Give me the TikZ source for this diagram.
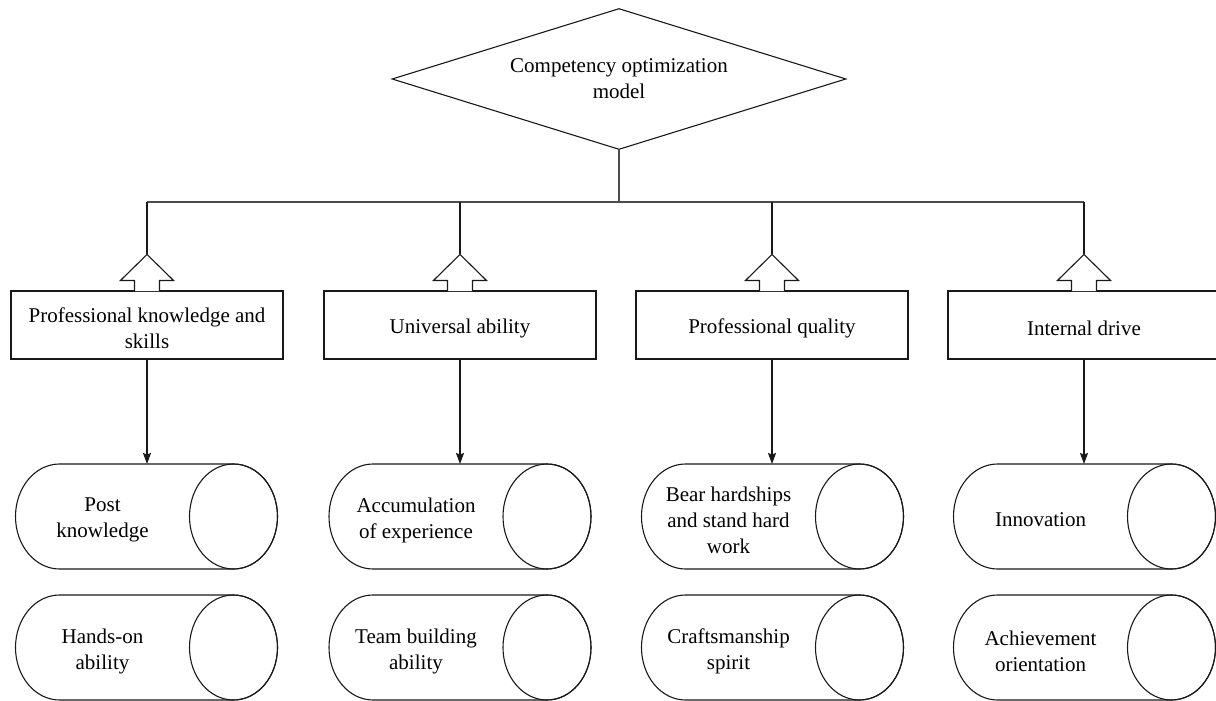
\documentclass[tikz,border=0pt]{standalone}
\usepackage{fontspec}
\setmainfont{Liberation Serif}
\usetikzlibrary{shapes.geometric,arrows.meta}
\newcommand{\capsulepic}[4]{% #1 name, #2 cx, #3 top, #4 text
  \draw[shp] ({#2-87},#3) -- ({#2+87},#3)
     arc[start angle=-90,end angle=90,x radius=44,y radius=52.5]
     -- ({#2-87},{#3+105})
     arc[start angle=90,end angle=270,x radius=44,y radius=52.5] -- cycle;
  \draw[shp] ({#2+87},{#3+52.5}) ellipse[x radius=44,y radius=52.5];
  \coordinate (#1top) at (#2,#3);
  \node[lbl] (#1) at ({#2-44},{#3+56}) {#4};
}
\newcommand{\hollowarrow}[1]{%
  \draw[shp,preaction={fill=white}] ([xshift=-12.5pt,yshift=-0.7pt]#1.north) -- ++(0,-10.7) -- ++(-14,0)
     -- ++(26.5,-26) -- ++(26.5,26) -- ++(-14,0) -- ++(0,10.7);
}
\begin{document}
\begin{tikzpicture}[x=1pt,y=-1pt,
  shp/.style={line width=1.1pt,draw=black!90},
  lbl/.style={font=\fontsize{21}{26}\selectfont,align=center,inner sep=0pt},
  catbox/.style={shp,minimum width=272pt,minimum height=68pt,inner sep=0pt},
  busline/.style={line width=1.4pt,draw=black!70},
  down/.style={shp,-{Stealth[length=11pt,width=8pt,inset=1.5pt]}}]
\useasboundingbox (0,0) rectangle (1216,701);

\node[shp,lbl,diamond,aspect=3.22,minimum width=454pt,minimum height=141pt] (dia) at (619,79)
  {Competency optimization\\model};

\coordinate (bus1) at (147,202);
\coordinate (bus2) at (460,202);
\coordinate (bus3) at (772,202);
\coordinate (bus4) at (1084,202);
\draw[busline] (dia.south) -- (dia.south |- bus1);
\draw[busline] (bus1) -- (bus4);

\node[catbox] (b1) at (147,325) {};
\node[catbox] (b2) at (460,325) {};
\node[catbox] (b3) at (772,325) {};
\node[catbox] (b4) at (1084,325) {};
\node[lbl] (t1) at (147,328) {Professional knowledge and\\skills};
\node[lbl] (t2) at (460,328) {Universal ability};
\node[lbl] (t3) at (772,328) {Professional quality};
\node[lbl] (t4) at (1084,328) {Internal drive};

\foreach \i in {1,2,3,4}{
  \hollowarrow{b\i}
  \draw[shp] (bus\i) -- ([yshift=36pt]b\i.north);
}

\capsulepic{c1}{146.5}{464}{Post\\knowledge}
\capsulepic{d1}{146.5}{595}{Hands-on\\ability}
\capsulepic{c2}{460}{464}{Accumulation\\of experience}
\capsulepic{d2}{460}{595}{Team building\\ability}
\capsulepic{c3}{772.5}{464}{Bear hardships\\and stand hard\\work}
\capsulepic{d3}{772.5}{595}{Craftsmanship\\spirit}
\capsulepic{c4}{1084.5}{464}{Innovation}
\capsulepic{d4}{1084.5}{595}{Achievement\\orientation}

\foreach \i in {1,2,3,4}{
  \draw[down] (b\i.south) -- (b\i.south |- c\i top);
}
\end{tikzpicture}
\end{document}
